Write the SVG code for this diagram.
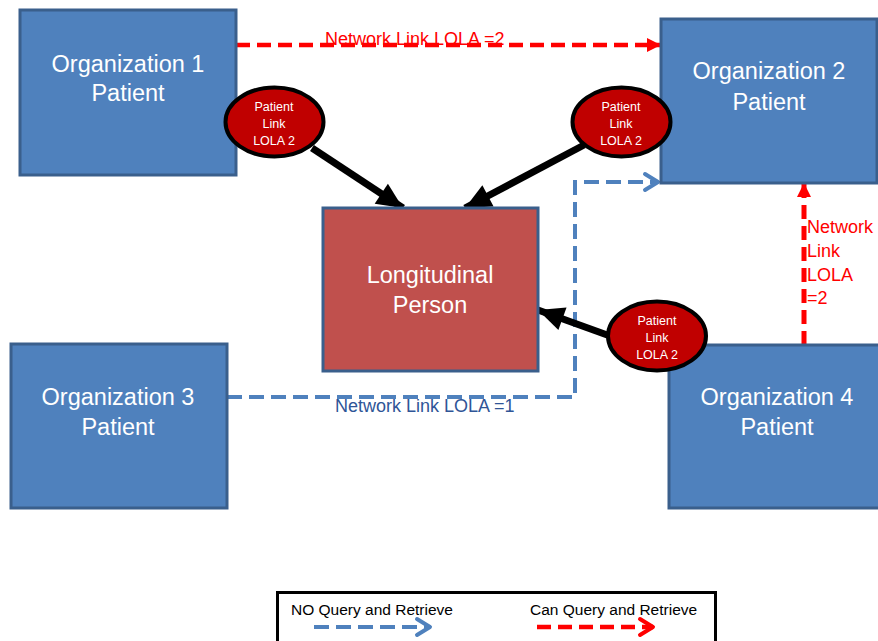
<svg xmlns="http://www.w3.org/2000/svg" width="878" height="641" viewBox="0 0 878 641">
<style>
.org{fill:#4F81BD;stroke:#3A5F8C;stroke-width:3}
.lp{fill:#C0504D;stroke:#3A5F8C;stroke-width:3}
.big{font-family:"Liberation Sans",Arial,sans-serif;font-size:23.5px;fill:#FFFFFF;text-anchor:middle}
.ell{fill:#C00000;stroke:#000000;stroke-width:4}
.small{font-family:"Liberation Sans",Arial,sans-serif;font-size:12.5px;fill:#FFFFFF;text-anchor:middle}
.red{fill:none;stroke:#FF0000;stroke-width:4.5;stroke-dasharray:14 7}
.blue{fill:none;stroke:#4F81BD;stroke-width:4;stroke-dasharray:15 7}
.blk{fill:none;stroke:#000000;stroke-width:7}
.lbl{font-family:"Liberation Sans",Arial,sans-serif;font-size:18px}
.leg{font-family:"Liberation Sans",Arial,sans-serif;font-size:15.5px;fill:#000000}
</style>
<defs>
<marker id="redHead" markerUnits="userSpaceOnUse" markerWidth="16" markerHeight="16" viewBox="0 0 16 16" refX="14" refY="8" orient="auto">
<path d="M1,1 L15,8 L1,15 Z" fill="#FF0000"/>
</marker>
<marker id="blueHead" markerUnits="userSpaceOnUse" markerWidth="22" markerHeight="22" viewBox="0 0 22 22" refX="18" refY="11" orient="auto">
<path d="M5,3 L18,11 L5,19" fill="none" stroke="#4F81BD" stroke-width="4" stroke-linecap="round" stroke-linejoin="round"/>
</marker>
<marker id="redOpen" markerUnits="userSpaceOnUse" markerWidth="22" markerHeight="22" viewBox="0 0 22 22" refX="18" refY="11" orient="auto">
<path d="M5,3 L18,11 L5,19" fill="none" stroke="#FF0000" stroke-width="4" stroke-linecap="round" stroke-linejoin="round"/>
</marker>
<marker id="blkHead" markerUnits="userSpaceOnUse" markerWidth="30" markerHeight="30" viewBox="0 0 30 30" refX="28" refY="15" orient="auto">
<path d="M2,3 L28,15 L2,27 Z" fill="#000000"/>
</marker>
</defs>
<g id="connectors">
<path class="blue" d="M227,397 L575,397 L575,182 L658,182" marker-end="url(#blueHead)"/>
<path class="red" d="M236,45 L660,45" marker-end="url(#redHead)"/>
<path class="red" style="stroke-width:5" d="M804,345 L804,184" marker-end="url(#redHead)"/>
<path class="blk" d="M312,148 L403,208" marker-end="url(#blkHead)"/>
<path class="blk" d="M584,145 L465,208" marker-end="url(#blkHead)"/>
<path class="blk" d="M610,336 L538,310" marker-end="url(#blkHead)"/>
<text class="lbl" x="325" y="45" fill="#FF0000">Network Link LOLA =2</text>
<text class="lbl" x="335" y="412" fill="#2F5597">Network Link LOLA =1</text>
<text class="lbl" fill="#FF0000"><tspan x="807" y="233">Network</tspan><tspan x="807" y="257">Link</tspan><tspan x="807" y="281">LOLA</tspan><tspan x="807" y="304">=2</tspan></text>
</g>
<g id="org1">
<rect class="org" x="20" y="10" width="216" height="165"/>
<text class="big" x="128" y="72">Organization 1</text>
<text class="big" x="128" y="101">Patient</text>
</g>
<g id="org2">
<rect class="org" x="661" y="19" width="216" height="164"/>
<text class="big" x="769" y="79">Organization 2</text>
<text class="big" x="769" y="110">Patient</text>
</g>
<g id="org3">
<rect class="org" x="11" y="344" width="216" height="164"/>
<text class="big" x="118" y="405">Organization 3</text>
<text class="big" x="118" y="435">Patient</text>
</g>
<g id="org4">
<rect class="org" x="669" y="345" width="216" height="163"/>
<text class="big" x="777" y="405">Organization 4</text>
<text class="big" x="777" y="435">Patient</text>
</g>
<g id="longitudinal">
<rect class="lp" x="323" y="208" width="215" height="163"/>
<text class="big" x="430" y="283">Longitudinal</text>
<text class="big" x="430" y="313">Person</text>
</g>
<g id="link1">
<ellipse class="ell" cx="274.5" cy="122" rx="49" ry="34.5"/>
<text class="small" x="274" y="111">Patient</text>
<text class="small" x="274" y="128">Link</text>
<text class="small" x="274" y="145">LOLA 2</text>
</g>
<g id="link2">
<ellipse class="ell" cx="621.5" cy="122" rx="49" ry="34.5"/>
<text class="small" x="621" y="111">Patient</text>
<text class="small" x="621" y="128">Link</text>
<text class="small" x="621" y="145">LOLA 2</text>
</g>
<g id="link3">
<ellipse class="ell" cx="657" cy="336" rx="49" ry="34.5"/>
<text class="small" x="657" y="325">Patient</text>
<text class="small" x="657" y="342">Link</text>
<text class="small" x="657" y="359">LOLA 2</text>
</g>
<g id="legend">
<rect x="277.5" y="592.5" width="438" height="60" fill="#FFFFFF" stroke="#000000" stroke-width="3"/>
<text class="leg" x="291" y="615">NO Query and Retrieve</text>
<text class="leg" x="530" y="615">Can Query and Retrieve</text>
<path class="blue" d="M314,627 L430,627" marker-end="url(#blueHead)"/>
<path class="red" style="stroke:#FF0000" d="M537,627 L653,627" marker-end="url(#redOpen)"/>
</g>
</svg>
